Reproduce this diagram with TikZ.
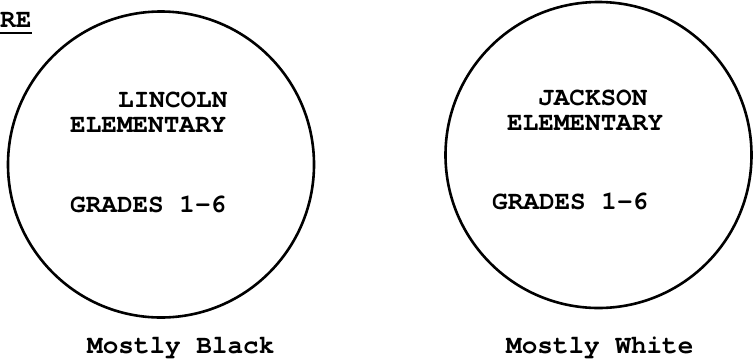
\documentclass[tikz,border=0pt]{standalone}
\usepackage{fontspec}
\newfontfamily\typewriter{texgyrecursor-bold.otf}

\begin{document}
\begin{tikzpicture}[x=1pt, y=-1pt,
    school/.style={draw, circle, line width=2.6pt, minimum size=306pt, inner sep=0pt},
    typed/.style={font=\typewriter\fontsize{26}{30}\selectfont, inner sep=0pt, anchor=base west}]
    \useasboundingbox (0,0) rectangle (756,360);
    % the two schools
    \foreach \name/\x/\y in {lincoln/161/164.5, jackson/598.5/155}
        \node[school] (\name) at (\x,\y) {};
    % heading
    \node[typed] (heading) at (0,27) {RE};
    \draw[line width=2.2pt] (0,33) -- (heading.base east |- 0,33);
    % Lincoln
    \node[typed] (lincolnname) at (118,107) {LINCOLN};
    \node[typed] (lincolnkind) at (70,132) {ELEMENTARY};
    \node[typed] (lincolngrades) at (70,212) {GRADES 1-6};
    \node[typed] (lincolnmix) at (87,353) {Mostly Black};
    % Jackson
    \node[typed] (jacksonname) at (538,105) {JACKSON};
    \node[typed] (jacksonkind) at (507,130) {ELEMENTARY};
    \node[typed] (jacksongrades) at (492,209) {GRADES 1-6};
    \node[typed] (jacksonmix) at (506,353) {Mostly White};
\end{tikzpicture}
\end{document}
